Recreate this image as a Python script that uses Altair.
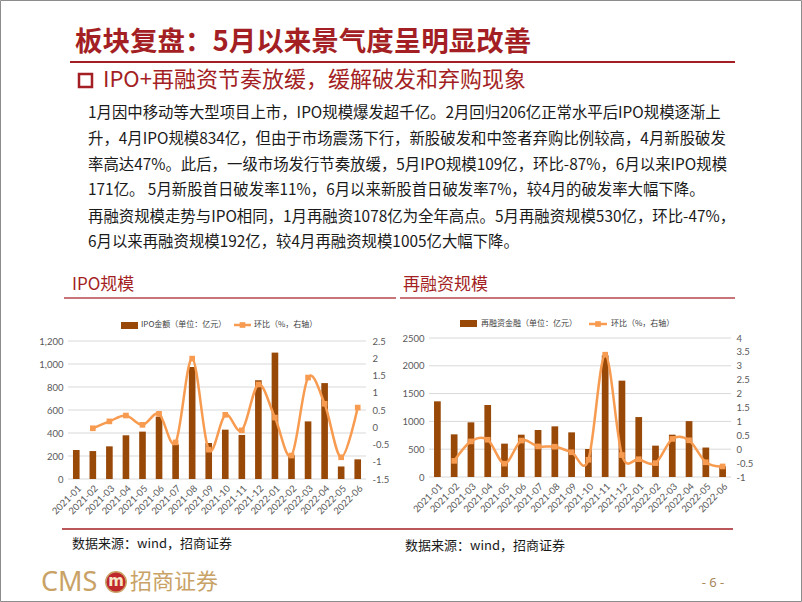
import altair as alt
import pandas as pd

# ---------------- data ----------------
months = ["2021-01", "2021-02", "2021-03", "2021-04", "2021-05", "2021-06",
          "2021-07", "2021-08", "2021-09", "2021-10", "2021-11", "2021-12",
          "2022-01", "2022-02", "2022-03", "2022-04", "2022-05", "2022-06"]

ipo_amount = [252, 243, 284, 380, 412, 542, 301, 974, 313, 429, 383, 858,
              1099, 206, 501, 834, 109, 171]
ipo_mom = [None, -0.03, 0.17, 0.34, 0.07, 0.39, -0.44, 1.99, -0.65, 0.36,
           -0.09, 1.24, 0.28, -0.82, 1.44, 0.68, -0.87, 0.57]

refi_amount = [1361, 767, 983, 1295, 600, 761, 845, 911, 803, 504, 2190, 1733,
               1078, 564, 761, 1005, 530, 192]
refi_mom = [None, -0.42, 0.28, 0.34, -0.52, 0.31, 0.10, 0.09, -0.11, -0.38,
            3.40, -0.21, -0.36, -0.50, 0.37, 0.32, -0.47, -0.62]

ipo_left_ticks = [0, 200, 400, 600, 800, 1000, 1200]
ipo_right_ticks = [-1.5, -1, -0.5, 0, 0.5, 1, 1.5, 2, 2.5]
refi_left_ticks = [0, 500, 1000, 1500, 2000, 2500]
refi_right_ticks = [-1, -0.5, 0, 0.5, 1, 1.5, 2, 2.5, 3, 3.5, 4]

title_text = "板块复盘：5月以来景气度呈明显改善"
subtitle_text = "IPO+再融资节奏放缓，缓解破发和弃购现象"
para_lines = [
    "1月因中移动等大型项目上市，IPO规模爆发超千亿。2月回归206亿正常水平后IPO规模逐渐上",
    "升，4月IPO规模834亿，但由于市场震荡下行，新股破发和中签者弃购比例较高，4月新股破发",
    "率高达47%。此后，一级市场发行节奏放缓，5月IPO规模109亿，环比-87%，6月以来IPO规模",
    "171亿。 5月新股首日破发率11%，6月以来新股首日破发率7%，较4月的破发率大幅下降。",
    "再融资规模走势与IPO相同，1月再融资1078亿为全年高点。5月再融资规模530亿，环比-47%，",
    "6月以来再融资规模192亿，较4月再融资规模1005亿大幅下降。",
]
chart1_title = "IPO规模"
chart2_title = "再融资规模"
legend1_bar = "IPO金额（单位：亿元）"
legend2_bar = "再融资金融（单位：亿元）"
legend_line = "环比（%，右轴）"
source_text = "数据来源：wind，招商证券"
footer_cms = "CMS"
footer_name = "招商证券"
page_no = "- 6 -"

# ---------------- styles ----------------
CJK = "Noto Sans CJK SC"
LAT = "Lato"
RED = "#A31F24"
BROWN = "#984807"
ORANGE = "#F79B50"
GRID = "#D9D9D9"
AXIS_LBL = "#595959"
GOLD = "#C9A266"

one = pd.DataFrame({"k": [0]})


def text_layer(txt, x, y, size, color, weight="normal", font=CJK, align="left"):
    return alt.Chart(pd.DataFrame({"t": [txt]})).mark_text(
        align=align, baseline="middle", fontSize=size, color=color,
        font=font, fontWeight=weight
    ).encode(text="t:N", x=alt.value(x), y=alt.value(y))


def hline(x1, x2, y, color, width):
    return alt.Chart(one).mark_rule(color=color, strokeWidth=width).encode(
        x=alt.value(x1), x2=alt.value(x2), y=alt.value(y))


def box(x1, x2, y1, y2, **kw):
    return alt.Chart(one).mark_rect(**kw).encode(
        x=alt.value(x1), x2=alt.value(x2), y=alt.value(y1), y2=alt.value(y2))


def combo(amount, mom, xr, yr, ldom, lticks, rdom, rticks,
          left_off, right_off, bottom_off, lfmt):
    df = pd.DataFrame({"month": months, "amount": amount, "mom": mom})
    grid = alt.Chart(pd.DataFrame({"v": lticks})).mark_rule(
        color=GRID, strokeWidth=1
    ).encode(
        y=alt.Y("v:Q", scale=alt.Scale(domain=ldom, range=yr, nice=False), axis=None),
        x=alt.value(xr[0]), x2=alt.value(xr[1]),
    )
    bars = alt.Chart(df).mark_bar(color=BROWN).encode(
        x=alt.X("month:N", sort=months,
                scale=alt.Scale(type="band", domain=months, range=xr,
                                paddingInner=0.6, paddingOuter=0.3),
                axis=alt.Axis(orient="bottom", offset=bottom_off, labelAngle=-45,
                              ticks=False, domain=False, grid=False,
                              labelFont=LAT, labelFontSize=9.5,
                              labelColor=AXIS_LBL, labelPadding=4, title=None)),
        y=alt.Y("amount:Q",
                scale=alt.Scale(domain=ldom, range=yr, nice=False, zero=True),
                axis=alt.Axis(orient="left", offset=left_off, values=lticks,
                              format=lfmt, ticks=False, domain=False, grid=False,
                              labelFont=LAT, labelFontSize=9.5,
                              labelColor=AXIS_LBL, labelPadding=5, title=None)),
    )
    line = alt.Chart(df).mark_line(
        color=ORANGE, strokeWidth=2.5, interpolate="cardinal",
        point=alt.OverlayMarkDef(shape="square", size=32, filled=True, color=ORANGE),
    ).encode(
        x=alt.X("month:N", sort=months,
                scale=alt.Scale(type="point", domain=months, range=xr, padding=0.5),
                axis=None),
        y=alt.Y("mom:Q",
                scale=alt.Scale(domain=rdom, range=yr, nice=False, zero=False),
                axis=alt.Axis(orient="right", offset=right_off, values=rticks,
                              labelExpr="datum.value + ''", ticks=False,
                              domain=False, grid=False, labelFont=LAT,
                              labelFontSize=9.5, labelColor=AXIS_LBL,
                              labelPadding=5, title=None)),
    )
    return [grid, bars, line]


W, H = 802, 602

layers = []
# frame
layers.append(box(0.5, 801.5, 0.5, 601.5, fillOpacity=0, stroke="#8C8C8C", strokeWidth=1))
# header
layers.append(text_layer(title_text, 75, 43, 27.5, RED, weight="bold"))
layers.append(hline(70, 735, 62, RED, 2))
layers.append(box(79, 92, 74, 87, fillOpacity=0, stroke=RED, strokeWidth=2.5))
layers.append(text_layer(subtitle_text, 103, 80, 22, RED))
para_y = [113, 139, 165, 190, 217, 242]
for txt, yy in zip(para_lines, para_y):
    layers.append(text_layer(txt, 88, yy, 15.4, "#1A1A1A"))

# chart titles
layers.append(text_layer(chart1_title, 72, 285, 17, RED))
layers.append(text_layer(chart2_title, 403, 285, 17, RED))
layers.append(hline(64, 396, 298, "#B5474B", 1.5))
layers.append(hline(400, 735, 298, "#B5474B", 1.5))

# charts
layers += combo(ipo_amount, ipo_mom, [68, 366], [479, 341], [0, 1200],
                ipo_left_ticks, [-1.5, 2.5], ipo_right_ticks,
                -68, -435, -123, ",d")
layers += combo(refi_amount, refi_mom, [429, 731], [477, 338], [0, 2500],
                refi_left_ticks, [-1, 4], refi_right_ticks,
                -429, -71, -125, "d")

# legends
LEG = 8
layers.append(box(121, 138, 322, 329, color=BROWN))
layers.append(text_layer(legend1_bar, 141, 325, LEG, "#404040"))
layers.append(hline(234, 251, 325, ORANGE, 2.5))
layers.append(alt.Chart(one).mark_square(size=32, color=ORANGE, opacity=1).encode(
    x=alt.value(242.5), y=alt.value(325)))
layers.append(text_layer(legend_line, 254, 325, LEG, "#404040"))

layers.append(box(460, 477, 320, 327, color=BROWN))
layers.append(text_layer(legend2_bar, 481, 324, LEG, "#404040"))
layers.append(hline(589, 607, 324, ORANGE, 2.5))
layers.append(alt.Chart(one).mark_square(size=32, color=ORANGE, opacity=1).encode(
    x=alt.value(598), y=alt.value(324)))
layers.append(text_layer(legend_line, 611, 324, LEG, "#404040"))

# bottom line & sources
layers.append(hline(62, 733, 529, RED, 1.5))
layers.append(text_layer(source_text, 72, 544, 13, "#1A1A1A"))
layers.append(text_layer(source_text, 405, 546, 13, "#1A1A1A"))

# footer
layers.append(text_layer(footer_cms, 41, 583, 27, GOLD, font="Noto Sans"))
layers.append(alt.Chart(one).mark_circle(size=420, color="#C0272D", opacity=1,
                                         stroke=GOLD, strokeWidth=1.5).encode(
    x=alt.value(116), y=alt.value(582)))
layers.append(text_layer("m", 116, 581, 15, "#F6E7C8", weight="bold",
                         font="DejaVu Sans", align="center"))
layers.append(text_layer(footer_name, 130, 582, 22, GOLD))
layers.append(text_layer(page_no, 713, 583, 13, "#A8875A", font="Noto Sans",
                         align="center"))

chart = alt.layer(*layers).resolve_scale(
    x="independent", y="independent"
).properties(
    width=W, height=H, padding=0,
    autosize=alt.AutoSizeParams(type="none"),
    background="white",
).configure_view(strokeWidth=0)

chart.save("out.html", embed_options={"renderer": "svg", "actions": False})
